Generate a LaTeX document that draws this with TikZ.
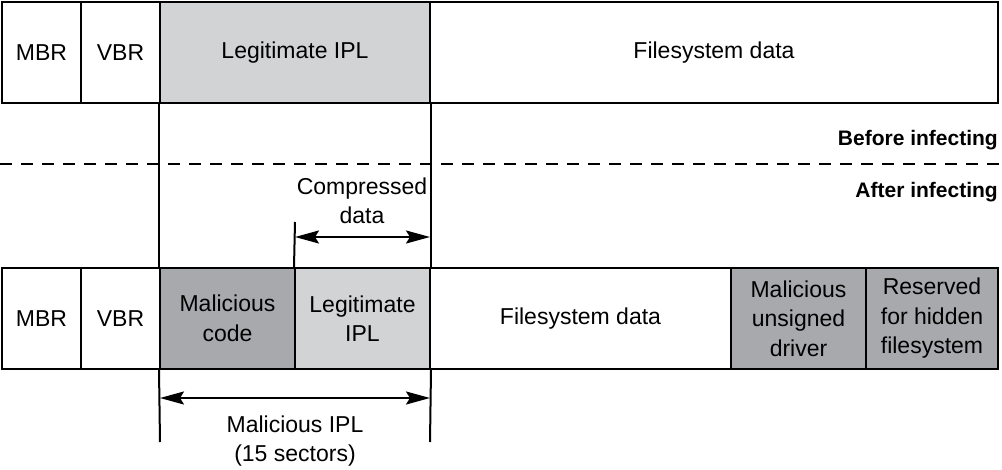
\documentclass[tikz,border=0pt]{standalone}
\usepackage{fontspec}
\setmainfont{Liberation Sans}
\usetikzlibrary{arrows.meta}
\definecolor{darkbox}{HTML}{A7A9AC}
\definecolor{lightbox}{HTML}{D1D3D4}
\tikzset{
  cell/.style={draw=black, line width=2pt, minimum height=101pt, inner sep=0pt, align=center,
    font=\fontsize{23}{29.5}\selectfont},
  guide/.style={line width=2pt},
  dim/.style={line width=2pt, {Stealth[length=24pt,width=13pt,inset=4pt]}-{Stealth[length=24pt,width=13pt,inset=4pt]}},
  lbl/.style={align=center, font=\fontsize{23}{29.5}\selectfont, inner sep=0pt},
  bold/.style={font=\fontsize{21}{25}\selectfont\bfseries, inner sep=0pt, anchor=east}
}
\begin{document}
\begin{tikzpicture}[x=1pt,y=-1pt]
\useasboundingbox (0,0) rectangle (1002,469);
% top row
\node[cell, minimum width=79pt] (mbr1) at (41.5,52.5) {MBR};
\node[cell, minimum width=79pt] (vbr1) at (120.5,52.5) {VBR};
\node[cell, minimum width=270pt, fill=lightbox] (ipl1) at (295,52.5) {Legitimate IPL};
\node[cell, minimum width=568pt] (fs1) at (714,52.5) {Filesystem data};
% bottom row
\node[cell, minimum width=79pt] (mbr2) at (41.5,318.5) {MBR};
\node[cell, minimum width=79pt] (vbr2) at (120.5,318.5) {VBR};
\node[cell, minimum width=135pt, fill=darkbox] (mal) at (227.5,318.5) {Malicious\\code};
\node[cell, minimum width=135pt, fill=lightbox] (ipl2) at (362.5,318.5) {Legitimate\\IPL};
\node[cell, minimum width=301pt] (fs2) at (580.5,318.5) {Filesystem data};
\node[cell, minimum width=135pt, fill=darkbox] (drv) at (798.5,318.5) {Malicious\\unsigned\\driver};
\node[cell, minimum width=132pt, fill=darkbox] (res) at (932,318.5) {Reserved\\for hidden\\filesystem};
% guides
\coordinate (gl) at (160,442);
\coordinate (gr) at (430,442);
\draw[guide] (ipl1.south west) -- (mal.north west);
\draw[guide] (ipl1.south east) -- (ipl2.north east);
\draw[guide] (mal.south west) -- (gl);
\draw[guide] (ipl2.south east) -- (gr);
\coordinate (ct) at (295,222);
\draw[guide] (ct) -- (ipl2.north west);
% dashed separator
\coordinate (dl) at (0,164);
\coordinate (dr) at (1002,164);
\draw[line width=2pt, dash pattern=on 12pt off 9pt] (dl) -- (dr);
\node[bold] (before) at (998,140) {Before infecting};
\node[bold] (after) at (998,192) {After infecting};
% dimension arrows
\coordinate (ca) at (295,237);
\coordinate (cb) at (430,237);
\draw[dim] (ca) -- (cb);
\node[lbl] (comp) at (362,201) {Compressed\\data};
\coordinate (ma) at (160,398);
\coordinate (mb) at (430,398);
\draw[dim] (ma) -- (mb);
\node[lbl] (malipl) at (295,441) {Malicious IPL\\(15 sectors)};
\end{tikzpicture}
\end{document}
